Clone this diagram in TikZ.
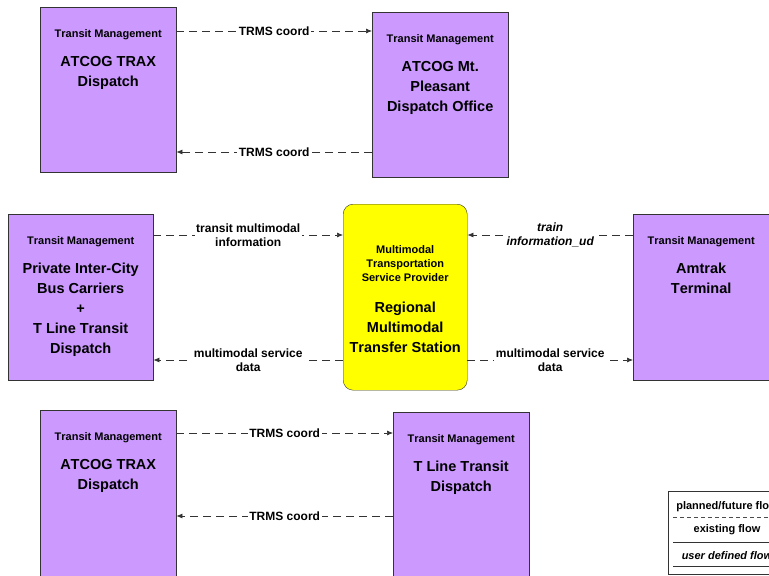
\documentclass[tikz,border=0pt]{standalone}
\usepackage{fontspec}
\setmainfont[Kerning=Off]{Liberation Sans}
\usetikzlibrary{positioning,arrows.meta}

\definecolor{tmpurple}{RGB}{204,153,255}
\definecolor{mmyellow}{RGB}{255,255,0}

\tikzset{
  tmbox/.style={draw=black!80, fill=tmpurple, anchor=north west,
    minimum width=136pt, minimum height=165pt, inner sep=0pt},
  boxtitle/.style={inner sep=0pt, align=center,
    font={\bfseries\fontsize{11}{14}\selectfont}},
  boxname/.style={inner sep=0pt, align=center,
    font={\bfseries\fontsize{14.5}{20}\selectfont}},
  flow/.style={draw=black!80, line width=0.7pt, dash pattern=on 8pt off 5pt,
    -{Latex[length=6pt,width=5pt]}},
  flowlabel/.style={fill=white, inner sep=1.5pt, align=center,
    font={\bfseries\fontsize{12}{14.5}\selectfont}},
  legtext/.style={inner sep=0pt, font={\bfseries\fontsize{11}{12}\selectfont}},
}

\begin{document}
\begin{tikzpicture}[x=1pt, y=-1pt]

\useasboundingbox (0,0) rectangle (769,576);

% top pair
\node [tmbox] (trax1) at (40,7) {};
\node [boxtitle, below=22pt of trax1.north] (trax1-t) {Transit Management};
\node [boxname, below=16pt of trax1-t] (trax1-n) {ATCOG TRAX\\Dispatch};

\node [tmbox] (mtp) at (372,12) {};
\node [boxtitle, below=22pt of mtp.north] (mtp-t) {Transit Management};
\node [boxname, below=16pt of mtp-t] (mtp-n) {ATCOG Mt.\\Pleasant\\Dispatch Office};

% middle row
\node [tmbox, minimum width=145pt, minimum height=166pt] (priv) at (8,214) {};
\node [boxtitle, below=22pt of priv.north] (priv-t) {Transit Management};
\node [boxname, below=16pt of priv-t] (priv-n)
 {Private Inter-City\\Bus Carriers\\+\\T Line Transit\\Dispatch};

\node [draw=black!80, fill=mmyellow, anchor=north west, rounded corners=10pt,
minimum width=124pt, minimum height=186pt, inner sep=0pt] (rmts) at (343,204) {};
\node [boxtitle, below=41pt of rmts.north] (rmts-t)
 {Multimodal\\Transportation\\Service Provider};
\node [boxname, below=20pt of rmts-t] (rmts-n)
 {Regional\\Multimodal\\Transfer Station};

\node [tmbox, minimum height=166pt] (amtrak) at (633,214) {};
\node [boxtitle, below=22pt of amtrak.north] (amtrak-t) {Transit Management};
\node [boxname, below=16pt of amtrak-t] (amtrak-n) {Amtrak\\Terminal};

% bottom pair
\node [tmbox, minimum height=168pt] (trax2) at (40,410) {};
\node [boxtitle, below=22pt of trax2.north] (trax2-t) {Transit Management};
\node [boxname, below=16pt of trax2-t] (trax2-n) {ATCOG TRAX\\Dispatch};

\node [tmbox, minimum height=168pt] (tline) at (393,412) {};
\node [boxtitle, below=22pt of tline.north] (tline-t) {Transit Management};
\node [boxname, below=16pt of tline-t] (tline-n) {T Line Transit\\Dispatch};

% flows
\coordinate (f1) at ([yshift=-24pt]trax1.north east);
\draw [flow] (f1) -- (f1 -| mtp.west) node [flowlabel, midway] {TRMS coord};

\coordinate (f2) at ([yshift=-140pt]mtp.north west);
\draw [flow] (f2) -- (f2 -| trax1.east) node [flowlabel, midway] {TRMS coord};

\coordinate (f3) at ([yshift=-21pt]priv.north east);
\draw [flow] (f3) -- (f3 -| rmts.west) node [flowlabel, midway]
 {transit multimodal\\information};

\coordinate (f4) at ([yshift=-146pt]priv.north east);
\draw [flow] (f4 -| rmts.west) -- (f4) node [flowlabel, midway]
 {multimodal service\\data};

\coordinate (f5) at ([yshift=-21pt]amtrak.north west);
\draw [flow] (f5) -- (f5 -| rmts.east) node [flowlabel, midway,
 font={\bfseries\itshape\fontsize{12}{14.5}\selectfont}] {train\\information\_ud};

\coordinate (f6) at ([yshift=-146pt]amtrak.north west);
\draw [flow] (f6 -| rmts.east) -- (f6) node [flowlabel, midway]
 {multimodal service\\data};

\coordinate (f7) at ([yshift=-23pt]trax2.north east);
\draw [flow] (f7) -- (f7 -| tline.west) node [flowlabel, midway] {TRMS coord};

\coordinate (f8) at ([yshift=-104pt]tline.north west);
\draw [flow] (f8) -- (f8 -| trax2.east) node [flowlabel, midway] {TRMS coord};

% legend
\node [draw=black!80, fill=white, anchor=north west, minimum width=118pt,
minimum height=83pt, inner sep=0pt] (legend) at (668,491) {};
\node [legtext] (leg-p) at (727,507) {planned/future flow};
\coordinate (leg1) at (673,517);
\draw [black!70, dash pattern=on 4pt off 3pt] (leg1) -- ([xshift=-5pt]leg1 -| legend.east);
\node [legtext] (leg-e) at (727,530) {existing flow};
\coordinate (leg2) at (673,542);
\draw [black!80] (leg2) -- ([xshift=-5pt]leg2 -| legend.east);
\node [legtext, font={\bfseries\itshape\fontsize{11}{12}\selectfont}] (leg-u)
 at (727,556) {user defined flow};
\coordinate (leg3) at (673,566);
\draw [black!80] (leg3) -- ([xshift=-5pt]leg3 -| legend.east);

\end{tikzpicture}
\end{document}
